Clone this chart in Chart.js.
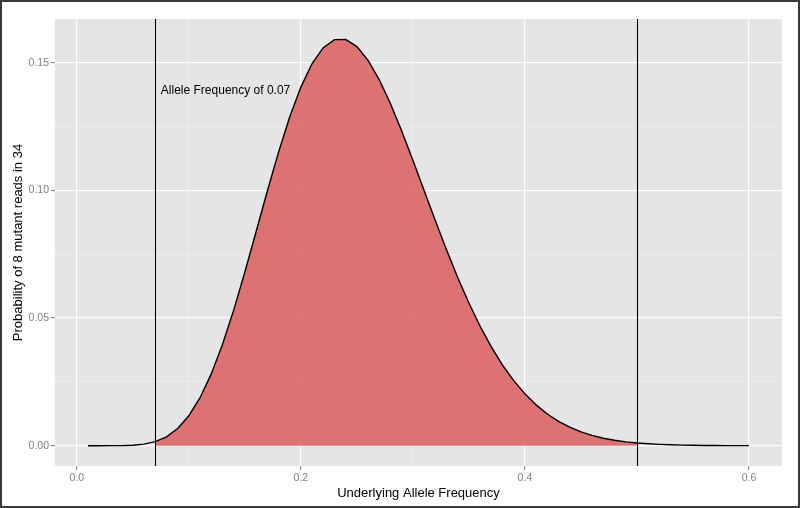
<!DOCTYPE html>
<html>
<head>
<meta charset="utf-8">
<script src="https://cdn.jsdelivr.net/npm/chart.js@4.4.1/dist/chart.umd.min.js"></script>
<style>
  html, body { margin: 0; padding: 0; background: #fff; }
  #wrap { width: 800px; height: 508px; }
</style>
</head>
<body>
<div id="wrap"><canvas id="chart" width="800" height="508"></canvas></div>
<script>
/* ---- data ---- */
const freqs = [0.01, 0.02, 0.03, 0.04, 0.05, 0.06, 0.07, 0.08, 0.09, 0.10,
               0.11, 0.12, 0.13, 0.14, 0.15, 0.16, 0.17, 0.18, 0.19, 0.20,
               0.21, 0.22, 0.23, 0.24, 0.25, 0.26, 0.27, 0.28, 0.29, 0.30,
               0.31, 0.32, 0.33, 0.34, 0.35, 0.36, 0.37, 0.38, 0.39, 0.40,
               0.41, 0.42, 0.43, 0.44, 0.45, 0.46, 0.47, 0.48, 0.49, 0.50,
               0.51, 0.52, 0.53, 0.54, 0.55, 0.56, 0.57, 0.58, 0.59, 0.60];
const probs = [0.0000000014, 0.00000028, 0.0000054, 0.0000412, 0.000187, 0.000610, 0.001586, 0.003486, 0.006730, 0.011731,
               0.018806, 0.028120, 0.039634, 0.053089, 0.068021, 0.083800, 0.099688, 0.114912, 0.128724, 0.140475,
               0.149652, 0.155906, 0.159074, 0.159171, 0.156363, 0.150950, 0.143328, 0.133945, 0.123289, 0.111826,
               0.099998, 0.088197, 0.076750, 0.065917, 0.055887, 0.046787, 0.038680, 0.031584, 0.025475, 0.020297,
               0.015975, 0.012421, 0.009539, 0.007237, 0.005422, 0.004012, 0.002931, 0.002114, 0.001505, 0.001057,
               0.000732, 0.000500, 0.000337, 0.000224, 0.000146, 0.0000943, 0.0000597, 0.0000372, 0.0000228, 0.0000137];

const shadeRange   = [0.07, 0.5];     // filled between these
const vlines       = [0.07, 0.5];     // black vertical lines
const noteText     = "Allele Frequency of 0.07";
const notePos      = [0.075, 0.1392];

const xMajorTicks = [0, 0.2, 0.4, 0.6];
const xMinorTicks = [0.1, 0.3, 0.5];
const yMajorTicks = [0, 0.05, 0.10, 0.15];
const yMinorTicks = [0.025, 0.075, 0.125];

const xTitle = "Underlying Allele Frequency";
const yTitle = "Probability of 8 mutant reads in 34";

/* ---- build datasets ---- */
const curvePts = freqs.map((f, i) => ({ x: f, y: probs[i] }));
const shadePts = curvePts.filter(p => p.x >= shadeRange[0] - 1e-9 && p.x <= shadeRange[1] + 1e-9);

const isMajor = (v, list) => list.some(m => Math.abs(m - v) < 1e-9);
const FONT = "'Liberation Sans', Arial, Helvetica, sans-serif";

// grey panel, frame, vertical lines and the note
const ggPlugin = {
  id: 'gg',
  beforeDraw(chart) {
    const { ctx, chartArea: a } = chart;
    ctx.save();
    ctx.fillStyle = '#ffffff';
    ctx.fillRect(0, 0, chart.width, chart.height);
    ctx.fillStyle = '#E5E5E5';
    ctx.fillRect(a.left, a.top, a.right - a.left, a.bottom - a.top);
    ctx.restore();
  },
  afterDatasetsDraw(chart) {
    const { ctx, chartArea: a, scales } = chart;
    ctx.save();
    ctx.strokeStyle = '#000';
    ctx.lineWidth = 1.1;
    vlines.forEach(v => {
      const px = Math.round(scales.x.getPixelForValue(v)) + 0.5;
      ctx.beginPath();
      ctx.moveTo(px, a.top);
      ctx.lineTo(px, a.bottom);
      ctx.stroke();
    });
    ctx.fillStyle = '#000';
    ctx.font = '12px ' + FONT;
    ctx.textAlign = 'left';
    ctx.textBaseline = 'middle';
    ctx.fillText(noteText, scales.x.getPixelForValue(notePos[0]), scales.y.getPixelForValue(notePos[1]));
    ctx.restore();
  },
  afterDraw(chart) {
    const ctx = chart.ctx;
    ctx.save();
    ctx.strokeStyle = '#3a3a3a';
    ctx.lineWidth = 2;
    ctx.strokeRect(1, 1, chart.width - 2, chart.height - 2);
    ctx.restore();
  }
};

new Chart(document.getElementById('chart'), {
  type: 'line',
  data: {
    datasets: [
      {
        data: curvePts,
        borderColor: '#000',
        borderWidth: 1.4,
        pointRadius: 0,
        tension: 0,
        fill: false,
        order: 0
      },
      {
        data: shadePts,
        borderWidth: 0,
        borderColor: 'rgba(0,0,0,0)',
        backgroundColor: 'rgba(219, 94, 94, 0.85)',
        pointRadius: 0,
        tension: 0,
        fill: 'origin',
        order: 1
      }
    ]
  },
  options: {
    responsive: false,
    animation: false,
    layout: { padding: { left: 0, top: 19, right: 18, bottom: 0 } },
    plugins: { legend: { display: false }, tooltip: { enabled: false } },
    scales: {
      x: {
        type: 'linear',
        min: -0.0195,
        max: 0.6295,
        afterBuildTicks: s => { s.ticks = xMajorTicks.concat(xMinorTicks).sort((a, b) => a - b).map(v => ({ value: v })); },
        afterFit: s => { s.height = 42; },
        border: { display: false },
        grid: {
          color: c => isMajor(c.tick.value, xMajorTicks) ? '#FFFFFF' : '#F2F2F2',
          lineWidth: c => isMajor(c.tick.value, xMajorTicks) ? 1.2 : 0.6,
          tickColor: c => isMajor(c.tick.value, xMajorTicks) ? '#7F7F7F' : 'rgba(0,0,0,0)',
          tickLength: 4,
          tickWidth: 1
        },
        ticks: {
          autoSkip: false,
          maxRotation: 0,
          padding: 2,
          color: '#7F7F7F',
          font: { family: FONT, size: 10.5 },
          callback: v => isMajor(v, xMajorTicks) ? v.toFixed(1) : ''
        },
        title: {
          display: true,
          text: xTitle,
          color: '#000',
          font: { family: FONT, size: 13 },
          padding: { top: 0, bottom: 7 }
        }
      },
      y: {
        min: -0.00796,
        max: 0.16715,
        afterBuildTicks: s => { s.ticks = yMajorTicks.concat(yMinorTicks).sort((a, b) => a - b).map(v => ({ value: v })); },
        afterFit: s => { s.width = 55; },
        border: { display: false },
        grid: {
          color: c => isMajor(c.tick.value, yMajorTicks) ? '#FFFFFF' : '#F2F2F2',
          lineWidth: c => isMajor(c.tick.value, yMajorTicks) ? 1.2 : 0.6,
          tickColor: c => isMajor(c.tick.value, yMajorTicks) ? '#7F7F7F' : 'rgba(0,0,0,0)',
          tickLength: 4,
          tickWidth: 1
        },
        ticks: {
          autoSkip: false,
          padding: 2,
          color: '#7F7F7F',
          font: { family: FONT, size: 10.5 },
          callback: v => isMajor(v, yMajorTicks) ? v.toFixed(2) : ''
        },
        title: {
          display: true,
          text: yTitle,
          color: '#000',
          font: { family: FONT, size: 13 },
          padding: { top: 11, bottom: 0 }
        }
      }
    }
  },
  plugins: [ggPlugin]
});
</script>
</body>
</html>
